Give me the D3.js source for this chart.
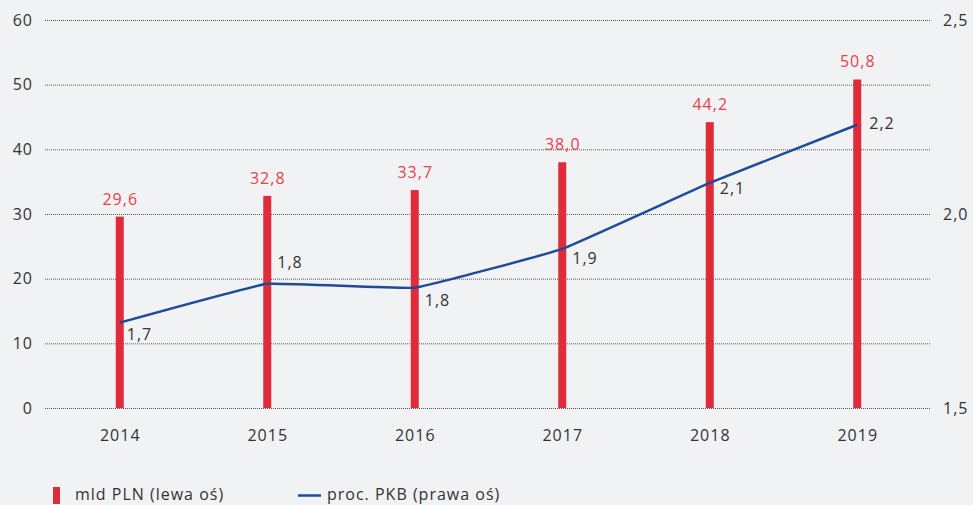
<!DOCTYPE html>
<html><head><meta charset="utf-8">
<script src="https://cdn.jsdelivr.net/npm/d3@7"></script>
<style>
html,body{margin:0;padding:0;background:#f1f2f4;}
svg{display:block;font-family:"Open Sans", Lato, sans-serif;letter-spacing:1px;}
</style></head>
<body>
<svg id="c" width="973" height="505"></svg>
<script>
const years = ["2014","2015","2016","2017","2018","2019"];
const mldPLN = [29.6, 32.8, 33.7, 38.0, 44.2, 50.8];
const procPKB = [1.72, 1.82, 1.81, 1.91, 2.08, 2.23];
const procLabels = ["1,7","1,8","1,8","1,9","2,1","2,2"];
const leftTicks = [0,10,20,30,40,50,60];
const rightTicks = [1.5,2.0,2.5];
const legendLabels = ["mld PLN (lewa oś)","proc. PKB (prawa oś)"];
// label placement offsets (layout only)
const procLabelDx = [7,10,10,10,10,12];
const procLabelDy = [12,-21,13,9,5,-1];

const svg = d3.select("#c");
const FS = 16;
const fmt = v => d3.format(".1f")(v).replace(".", ",");
const x = d3.scaleBand().domain(years).range([46, 931]);
const yL = d3.scaleLinear().domain([0,60]).range([408,20]);
const yR = d3.scaleLinear().domain([1.5,2.5]).range([408,20]);
const red = "#e02b3a", blue = "#1d4b9a", txt = "#333";

// grid
svg.append("g").selectAll("line").data(leftTicks).join("line")
  .attr("x1",45).attr("x2",931).attr("y1",d=>yL(d)+0.5).attr("y2",d=>yL(d)+0.5)
  .attr("stroke","#555").attr("stroke-width",1).attr("stroke-dasharray","1,1");

// left axis labels
svg.append("g").selectAll("text").data(leftTicks).join("text")
  .attr("x",33).attr("y",d=>yL(d)).attr("dy","0.35em").attr("text-anchor","end")
  .attr("font-size",FS).attr("fill",txt).text(d=>d);
// right axis labels
svg.append("g").selectAll("text").data(rightTicks).join("text")
  .attr("x",943).attr("y",d=>yR(d)).attr("dy","0.35em").attr("text-anchor","start")
  .attr("font-size",FS).attr("fill",txt).text(d=>fmt(d));
// x labels
svg.append("g").selectAll("text").data(years).join("text")
  .attr("x",d=>x(d)+x.bandwidth()/2+0.5).attr("y",441).attr("text-anchor","middle")
  .attr("font-size",FS).attr("fill",txt).text(d=>d);

// bars
const bw = 8;
svg.append("g").selectAll("rect").data(mldPLN).join("rect")
  .attr("x",(d,i)=>x(years[i])+x.bandwidth()/2-bw/2).attr("width",bw)
  .attr("y",d=>yL(d)).attr("height",d=>yL(0)-yL(d)).attr("fill",red);
svg.append("g").selectAll("text").data(mldPLN).join("text")
  .attr("x",(d,i)=>x(years[i])+x.bandwidth()/2+0.5).attr("y",d=>yL(d)-12)
  .attr("text-anchor","middle").attr("font-size",FS).attr("fill","#e8414b").text(d=>fmt(d));

// line
const line = d3.line().x((d,i)=>x(years[i])+x.bandwidth()/2).y(d=>yR(d)).curve(d3.curveCardinal.tension(0.75));
svg.append("path").datum(procPKB).attr("d",line).attr("fill","none")
  .attr("stroke",blue).attr("stroke-width",2.5);
svg.append("g").selectAll("text").data(procPKB).join("text")
  .attr("x",(d,i)=>x(years[i])+x.bandwidth()/2+procLabelDx[i])
  .attr("y",(d,i)=>yR(d)+procLabelDy[i]).attr("dy","0.35em")
  .attr("font-size",FS).attr("fill",txt).text((d,i)=>procLabels[i]);

// legend
const lg = svg.append("g");
lg.append("rect").attr("x",53).attr("y",487).attr("width",7).attr("height",17).attr("fill",red);
lg.append("text").attr("x",75).attr("y",500).attr("font-size",FS).attr("fill",txt).text(legendLabels[0]);
lg.append("line").attr("x1",298).attr("x2",321).attr("y1",495.5).attr("y2",495.5).attr("stroke",blue).attr("stroke-width",2.5);
lg.append("text").attr("x",327).attr("y",500).attr("font-size",FS).attr("fill",txt).text(legendLabels[1]);
</script>
</body></html>
